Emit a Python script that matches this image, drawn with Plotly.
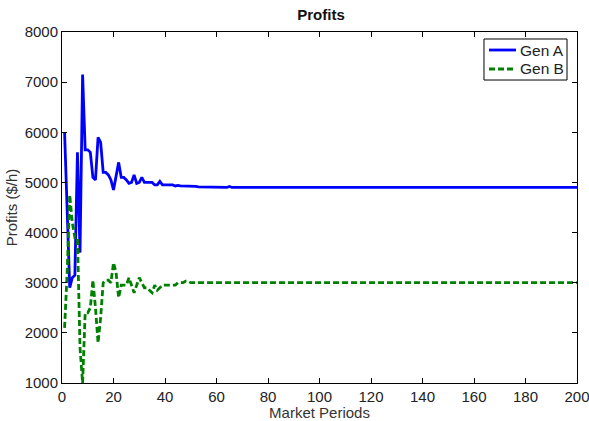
import plotly.graph_objects as go

periods = list(range(1, 67)) + [200]

gen_a = [6000, 4400, 2900, 3100, 3150, 5600, 3600, 7150, 5650, 5650,
         5600, 5100, 5050, 5900, 5800, 5200, 5200, 5150, 5050, 4850,
         5150, 5400, 5100, 5100, 5050, 4980, 5000, 5150, 4980, 5000,
         5100, 5000, 5000, 5000, 5000, 4950, 4950, 5020, 4950, 4950,
         4950, 4940, 4950, 4930, 4940, 4930, 4930, 4920, 4920, 4930,
         4920, 4920, 4910, 4910, 4910, 4900, 4900, 4900, 4900, 4900,
         4900, 4900, 4900, 4900, 4920, 4900, 4900]

gen_b = [2100, 3200, 4750, 4200, 3900, 3900, 1700, 1000, 2400, 2400,
         2500, 3050, 2500, 1800, 2300, 3000, 3050, 3050, 3000, 3400,
         3200, 2700, 2950, 2950, 2950, 3100, 2950, 2800, 2950, 3100,
         3000, 2900, 2900, 2850, 2800, 2950, 2850, 2900, 2950, 2950,
         2950, 2950, 2950, 2950, 3000, 3000, 3000, 3030, 3030, 3000,
         3000, 3000, 3000, 3000, 3000, 3000, 3000, 3000, 3000, 3000,
         3000, 3000, 3000, 3000, 3000, 3000, 3000]

series_names = ["Gen A", "Gen B"]
series_colors = ["#0000FF", "#008000"]
series_dash = ["solid", "6px,3px"]

x_ticks = [0, 20, 40, 60, 80, 100, 120, 140, 160, 180, 200]
y_ticks = [1000, 2000, 3000, 4000, 5000, 6000, 7000, 8000]

fig = go.Figure()
for name, ys, col, dash in zip(series_names, [gen_a, gen_b], series_colors, series_dash):
    fig.add_trace(go.Scatter(x=periods, y=ys, mode="lines", name=name, showlegend=False,
                             line=dict(color=col, width=2.8, dash=dash)))

font = "Liberation Sans, Arial, sans-serif"
axis_common = dict(showline=True, linecolor="black", linewidth=1, mirror="allticks",
                   ticks="inside", ticklen=5, tickcolor="black", showgrid=False,
                   zeroline=False, automargin=False, ticklabeloverflow="allow",
                   tickfont=dict(family=font, size=15, color="#222"))

# manual MATLAB-style legend box (paper coordinates)
shapes = [dict(type="rect", xref="paper", yref="paper", x0=0.8194, x1=0.9806,
               y0=0.8632, y1=0.9801, line=dict(color="black", width=1),
               fillcolor="white", layer="above")]
annotations = []
legend_rows = [0.9487, 0.8946]
for name, col, dash, yy in zip(series_names, series_colors, series_dash, legend_rows):
    shapes.append(dict(type="line", xref="paper", yref="paper", x0=0.8291, x1=0.8816,
                       y0=yy, y1=yy, line=dict(color=col, width=2.8, dash=dash),
                       layer="above"))
    annotations.append(dict(xref="paper", yref="paper", x=0.8854, y=yy, text=name,
                            showarrow=False, xanchor="left", yanchor="middle",
                            font=dict(family=font, size=15.5, color="#222")))

fig.update_layout(
    width=589, height=421,
    margin=dict(l=62, r=12, t=32, b=38),
    paper_bgcolor="white", plot_bgcolor="white",
    title=dict(text="<b>Profits</b>", x=0.545, xanchor="center", y=0.978, yanchor="top",
               font=dict(family=font, size=15, color="#111")),
    xaxis=dict(range=[0, 200], tickvals=x_ticks, ticktext=[str(v) for v in x_ticks],
               title=dict(text="Market Periods", standoff=0,
                          font=dict(family=font, size=15, color="#333")),
               **axis_common),
    yaxis=dict(range=[1000, 8000], tickvals=y_ticks, ticktext=[str(v) for v in y_ticks],
               title=dict(text="Profits ($/h)", standoff=3,
                          font=dict(family=font, size=15, color="#333")),
               **axis_common),
    shapes=shapes,
    annotations=annotations,
    showlegend=False,
)

fig.write_html("out.html")
